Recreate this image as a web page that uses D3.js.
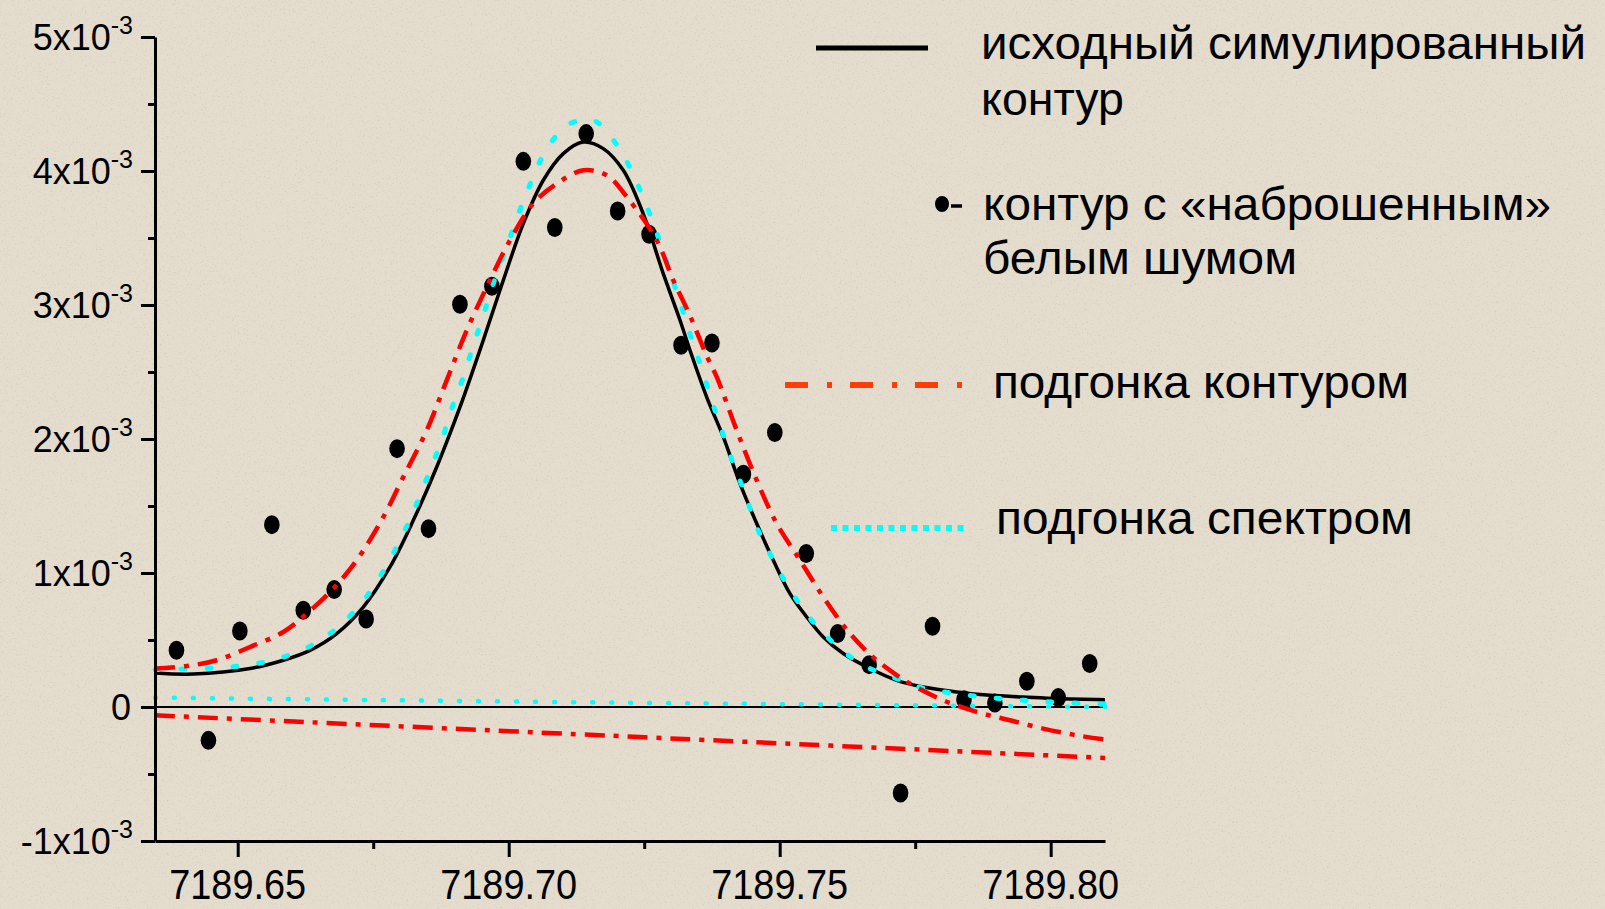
<!DOCTYPE html>
<html>
<head>
<meta charset="utf-8">
<script src="https://cdn.jsdelivr.net/npm/d3@7"></script>
<style>
html,body{margin:0;padding:0;background:#e4dccd;overflow:hidden;}
svg{display:block;}
text{font-family:"Liberation Sans",Arial,Helvetica,sans-serif;fill:#000;}
</style>
</head>
<body>
<svg id="chart" width="1605" height="909"></svg>
<script>
// ---------- data (y values in units of 10^-3) ----------
const xTicks = [7189.65, 7189.70, 7189.75, 7189.80];
const xTickLabels = ["7189.65", "7189.70", "7189.75", "7189.80"];
const xMinorTicks = [7189.675, 7189.725, 7189.775];
const yTicks = [-1, 0, 1, 2, 3, 4, 5];
const yTickLabels = ["-1x10", "0", "1x10", "2x10", "3x10", "4x10", "5x10"];
const yTickExp = ["-3", "", "-3", "-3", "-3", "-3", "-3"];
const yMinorTicks = [-0.5, 0.5, 1.5, 2.5, 3.5, 4.5];

// noisy contour (points)
const noisyX = [7189.6387, 7189.6446, 7189.6504, 7189.6563, 7189.6621, 7189.6678, 7189.6737, 7189.6794, 7189.6852, 7189.6910,
                7189.6969, 7189.7027, 7189.7085, 7189.7143, 7189.7201, 7189.7259, 7189.7318, 7189.7375, 7189.7433, 7189.7491,
                7189.7549, 7189.7607, 7189.7665, 7189.7723, 7189.7782, 7189.7840, 7189.7897, 7189.7956, 7189.8014, 7189.8072];
const noisyY = [0.423, -0.249, 0.567, 1.361, 0.722, 0.876, 0.657, 1.928, 1.331, 3.005,
                3.140, 4.072, 3.578, 4.279, 3.701, 3.528, 2.699, 2.716, 1.737, 2.048,
                1.145, 0.548, 0.316, -0.642, 0.602, 0.055, 0.030, 0.192, 0.070, 0.324];

// original simulated contour (solid black)
const simX = [7189.63474, 7189.64181, 7189.65227, 7189.65841, 7189.66334, 7189.66827, 7189.67317, 7189.67810, 7189.68240, 7189.68672,
              7189.69102, 7189.69531, 7189.69900, 7189.70269, 7189.70638, 7189.71007, 7189.71376, 7189.71745, 7189.72114, 7189.72483,
              7189.72852, 7189.73161, 7189.73345, 7189.73653, 7189.73959, 7189.74268, 7189.74576, 7189.74882, 7189.75190, 7189.75498,
              7189.75804, 7189.76173, 7189.76666, 7189.77159, 7189.77649, 7189.78266, 7189.78880, 7189.79494, 7189.80111, 7189.81002];
const simY = [0.254, 0.246, 0.287, 0.349, 0.423, 0.548, 0.746, 1.045, 1.393, 1.791,
              2.239, 2.737, 3.184, 3.607, 3.931, 4.130, 4.216, 4.167, 4.005, 3.680,
              3.234, 2.886, 2.662, 2.313, 2.015, 1.667, 1.369, 1.095, 0.846, 0.672,
              0.522, 0.399, 0.287, 0.199, 0.149, 0.112, 0.087, 0.075, 0.063, 0.055];

// fit by contour (red dash-dot)
const fitContX = [7189.63474, 7189.64059, 7189.64613, 7189.65227, 7189.65841, 7189.66273, 7189.66764, 7189.67196, 7189.67686, 7189.68055,
                  7189.68487, 7189.68856, 7189.69225, 7189.69594, 7189.70024, 7189.70454, 7189.70886, 7189.71376, 7189.71808, 7189.72201,
                  7189.72731, 7189.73037, 7189.73345, 7189.73653, 7189.73838, 7189.74207, 7189.74576, 7189.74945, 7189.75375, 7189.75804,
                  7189.76297, 7189.76790, 7189.77404, 7189.78018, 7189.78635, 7189.79249, 7189.79863, 7189.80480, 7189.81002];
const fitContY = [0.287, 0.306, 0.349, 0.448, 0.560, 0.697, 0.884, 1.095, 1.418, 1.716,
                  2.065, 2.438, 2.811, 3.134, 3.483, 3.757, 3.906, 4.005, 3.968, 3.795,
                  3.483, 3.184, 2.920, 2.620, 2.463, 2.065, 1.692, 1.369, 1.095, 0.821,
                  0.548, 0.349, 0.175, 0.050, -0.037, -0.099, -0.161, -0.211, -0.243];

// fit by spectrum (cyan dotted)
const fitSpecX = [7189.63474, 7189.64336, 7189.64858, 7189.65351, 7189.65841, 7189.66365, 7189.66856, 7189.67349, 7189.67749, 7189.68055,
                  7189.68303, 7189.68548, 7189.68764, 7189.68948, 7189.69162, 7189.69347, 7189.69531, 7189.69716, 7189.69932, 7189.70148,
                  7189.70362, 7189.70638, 7189.71070, 7189.71561, 7189.72022, 7189.72330, 7189.72576, 7189.72792, 7189.72989, 7189.73173,
                  7189.73364, 7189.73561, 7189.73745, 7189.73930, 7189.74144, 7189.74360, 7189.74576, 7189.74852, 7189.75159, 7189.75590,
                  7189.76113, 7189.76605, 7189.77159, 7189.77649, 7189.78266, 7189.78880, 7189.79494, 7189.80111, 7189.81002];
const fitSpecY = [0.280, 0.287, 0.299, 0.324, 0.373, 0.460, 0.597, 0.809, 1.057, 1.294,
                  1.518, 1.766, 1.990, 2.227, 2.463, 2.699, 2.923, 3.160, 3.396, 3.645,
                  3.869, 4.117, 4.341, 4.378, 4.179, 3.943, 3.707, 3.470, 3.234, 3.005,
                  2.761, 2.525, 2.289, 2.065, 1.816, 1.593, 1.343, 1.119, 0.896, 0.647,
                  0.436, 0.299, 0.212, 0.140, 0.100, 0.070, 0.050, 0.035, 0.020];

// fitted baselines
const baseContX = [7189.63474, 7189.72517, 7189.81002];
const baseContY = [-0.062, -0.226, -0.380];
const baseSpecX = [7189.63474, 7189.73469, 7189.81002];
const baseSpecY = [0.070, 0.027, 0.000];

const legendLabels = [
  ["исходный симулированный", "контур"],
  ["контур с «наброшенным»", "белым шумом"],
  ["подгонка контуром"],
  ["подгонка спектром"]
];

// ---------- drawing ----------
const svg = d3.select("#chart");
const W = 1605, H = 909;

// background with faint speckle
const defs = svg.append("defs");
const f = defs.append("filter").attr("id", "noise").attr("x", 0).attr("y", 0).attr("width", "100%").attr("height", "100%");
f.append("feTurbulence").attr("type", "fractalNoise").attr("baseFrequency", 0.55).attr("numOctaves", 2).attr("seed", 7);
f.append("feColorMatrix").attr("type", "matrix")
  .attr("values", "0 0 0 0 0.45  0 0 0 0 0.42  0 0 0 0 0.38  2.4 0 0 0 -1.35");
svg.append("rect").attr("width", W).attr("height", H).attr("fill", "#e4dccd");
svg.append("rect").attr("width", W).attr("height", H).attr("filter", "url(#noise)").attr("opacity", 0.35);

const x = d3.scaleLinear().domain([7189.63474, 7189.81002]).range([155, 1105]);
const y = d3.scaleLinear().domain([-1, 5]).range([841, 37]);

const zip = (xs, ys) => xs.map((v, i) => [v, ys[i]]);
const line = d3.line().x(d => x(d[0])).y(d => y(d[1])).curve(d3.curveCatmullRom.alpha(0.5));
const straight = d3.line().x(d => x(d[0])).y(d => y(d[1]));

// zero line
svg.append("path").datum([[x.domain()[0], 0], [x.domain()[1], 0]])
  .attr("d", straight).attr("fill", "none").attr("stroke", "#000").attr("stroke-width", 2);

// baselines
svg.append("path").datum(zip(baseSpecX, baseSpecY)).attr("d", line)
  .attr("fill", "none").attr("stroke", "#00ffff").attr("stroke-width", 4.5)
  .attr("stroke-linecap", "round").attr("stroke-dasharray", "1,18");
svg.append("path").datum(zip(baseContX, baseContY)).attr("d", line)
  .attr("fill", "none").attr("stroke", "#ff0000").attr("stroke-width", 4.5)
  .attr("stroke-dasharray", "20,9,5,9");

// noisy points
svg.append("g").selectAll("ellipse").data(zip(noisyX, noisyY)).join("ellipse")
  .attr("cx", d => x(d[0])).attr("cy", d => y(d[1])).attr("rx", 7.8).attr("ry", 9.5).attr("fill", "#000");

// simulated contour
svg.append("path").datum(zip(simX, simY)).attr("d", line)
  .attr("fill", "none").attr("stroke", "#000").attr("stroke-width", 3.5);
// spectrum fit
svg.append("path").datum(zip(fitSpecX, fitSpecY)).attr("d", line)
  .attr("fill", "none").attr("stroke", "#00ffff").attr("stroke-width", 5)
  .attr("stroke-linecap", "round").attr("stroke-dasharray", "4,22");
// contour fit
svg.append("path").datum(zip(fitContX, fitContY)).attr("d", line)
  .attr("fill", "none").attr("stroke", "#ff0000").attr("stroke-width", 4.5)
  .attr("stroke-dasharray", "20,9,5,9");

// axes
const axisStyle = g => {
  g.selectAll("path.domain").attr("stroke", "#000").attr("stroke-width", 3);
  g.selectAll(".tick line").attr("stroke", "#000").attr("stroke-width", 3);
  g.selectAll(".tick text").remove();
};
svg.append("g").attr("transform", "translate(155,0)")
  .call(d3.axisLeft(y).tickValues(yTicks).tickSize(14).tickSizeOuter(0).tickFormat(() => ""))
  .call(axisStyle);
svg.append("g").attr("transform", "translate(155,0)")
  .call(d3.axisLeft(y).tickValues(yMinorTicks).tickSize(7).tickSizeOuter(0).tickFormat(() => ""))
  .call(axisStyle).select("path.domain").remove();
svg.append("g").attr("transform", "translate(0,841)")
  .call(d3.axisBottom(x).tickValues(xTicks).tickSize(16).tickSizeOuter(0).tickFormat(() => ""))
  .call(axisStyle);
svg.append("g").attr("transform", "translate(0,841)")
  .call(d3.axisBottom(x).tickValues(xMinorTicks).tickSize(8).tickSizeOuter(0).tickFormat(() => ""))
  .call(axisStyle).select("path.domain").remove();

// y tick labels
yTicks.forEach((v, i) => {
  const t = svg.append("text").attr("x", yTickExp[i] ? 133 : 131).attr("y", y(v) + 13)
    .attr("text-anchor", "end").style("font-size", "36px");
  t.append("tspan").text(yTickLabels[i]);
  if (yTickExp[i]) t.append("tspan").attr("dy", -16).style("font-size", "25px").text(yTickExp[i]);
});
// x tick labels
xTicks.forEach((v, i) => {
  svg.append("text").attr("x", x(v)).attr("y", 899).attr("text-anchor", "middle")
    .style("font-size", "42px").attr("textLength", 137).attr("lengthAdjust", "spacingAndGlyphs")
    .text(xTickLabels[i]);
});

// legend
const lg = svg.append("g");
lg.append("line").attr("x1", 816).attr("x2", 928).attr("y1", 48).attr("y2", 48)
  .attr("stroke", "#000").attr("stroke-width", 5);
lg.append("ellipse").attr("cx", 942).attr("cy", 204).attr("rx", 7).attr("ry", 8).attr("fill", "#000");
lg.append("line").attr("x1", 951).attr("x2", 962).attr("y1", 206).attr("y2", 206)
  .attr("stroke", "#000").attr("stroke-width", 3.5);
lg.append("line").attr("x1", 785).attr("x2", 964).attr("y1", 385).attr("y2", 385)
  .attr("stroke", "#ff3d0a").attr("stroke-width", 6).attr("stroke-dasharray", "23,19,5,18");
lg.append("line").attr("x1", 831).attr("x2", 969).attr("y1", 528).attr("y2", 528)
  .attr("stroke", "#00ffff").attr("stroke-width", 6).attr("stroke-dasharray", "6,5.5");

const legendText = [
  {s: legendLabels[0][0], x: 981, y: 59, w: 605},
  {s: legendLabels[0][1], x: 981, y: 115, w: 143},
  {s: legendLabels[1][0], x: 983, y: 220, w: 568},
  {s: legendLabels[1][1], x: 983, y: 274, w: 314},
  {s: legendLabels[2][0], x: 993, y: 398, w: 416},
  {s: legendLabels[3][0], x: 996, y: 534, w: 417}
];
lg.selectAll("text.lt").data(legendText).join("text").attr("class", "lt")
  .attr("x", d => d.x).attr("y", d => d.y).style("font-size", "47px")
  .attr("textLength", d => d.w).attr("lengthAdjust", "spacingAndGlyphs")
  .text(d => d.s);
</script>
</body>
</html>
